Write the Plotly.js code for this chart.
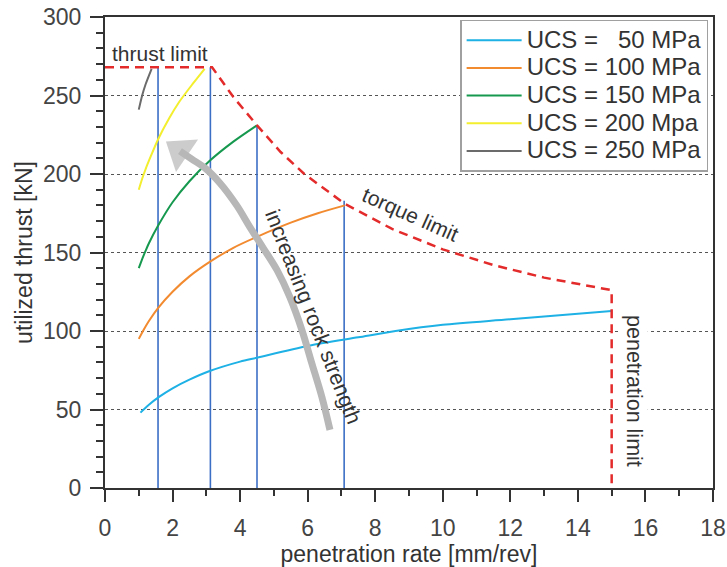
<!DOCTYPE html>
<html>
<head>
<meta charset="utf-8">
<script src="https://cdn.plot.ly/plotly-3.0.1.min.js"></script>
<style>html,body{margin:0;padding:0;background:#fff;}#chart{width:727px;height:567px;}</style>
</head>
<body>
<div id="chart"></div>
<script>
// ---- data ----
const ucsLabels = ['UCS = &nbsp;&nbsp;50 MPa', 'UCS = 100 MPa', 'UCS = 150 MPa', 'UCS = 200 Mpa', 'UCS = 250 MPa'];

const x50 = [1.05, 1.3, 1.6, 2.0, 2.5, 3.1, 4.0, 4.5, 6.0, 7.5, 8.6, 10, 12, 15];
const y50 = [48, 53, 58, 63.5, 69, 74.5, 80.5, 83, 90.5, 96, 100, 104, 107.5, 112.7];

const x100 = [1.0, 1.15, 1.3, 1.57, 2.0, 2.5, 3.1, 3.8, 4.5, 5.5, 6.3, 7.1];
const y100 = [95, 101, 106.4, 114.6, 125, 134.8, 144, 153, 160, 169, 175, 180];

const x150 = [1.0, 1.1, 1.2, 1.3, 1.57, 2.0, 2.5, 3.1, 3.8, 4.5];
const y150 = [140, 145.8, 151, 155.9, 167, 182, 195.4, 208.4, 220.6, 231];

const x200 = [1.0, 1.1, 1.2, 1.35, 1.57, 1.9, 2.2, 2.6, 2.95];
const y200 = [190, 197, 203, 211, 222, 235.5, 246, 257.5, 267];

const x250 = [1.0, 1.1, 1.2, 1.38];
const y250 = [241, 250, 257, 267];

// thrust limit + torque limit + penetration limit (red dashed envelope)
const limitX = [0, 3.17, 3.8, 4.5, 5.2, 5.9, 7.1, 8.5, 10, 11.5, 13, 15, 15];
const limitY = [268, 268, 249, 231, 214, 200, 181, 165, 152, 142, 134, 126, 0];

// vertical drop lines at the operating points
const dropX = [1.57, 3.12, 4.5, 7.08];
const dropTop = [268, 268, 231, 183];

// grey "increasing rock strength" arrow path (tail -> head)
const arrowX = [6.66, 6.42, 6.12, 5.83, 5.47, 5.09, 4.68, 4.28, 3.9, 3.4, 2.96, 2.57, 2.22];
const arrowY = [37, 58, 79.6, 100.6, 121.7, 138.9, 153, 166.5, 180, 194.3, 203.8, 209.5, 214.6];

const xTickVals = [0, 2, 4, 6, 8, 10, 12, 14, 16, 18];
const yTickVals = [0, 50, 100, 150, 200, 250, 300];

// ---- build traces ----
const curveColors = ['#1db1e5', '#f28a30', '#16994f', '#f3ee2e', '#6b6b6b'];
const curveX = [x50, x100, x150, x200, x250];
const curveY = [y50, y100, y150, y200, y250];

const dropLineX = [], dropLineY = [];
dropX.forEach((x, i) => { dropLineX.push(x, x, null); dropLineY.push(0, dropTop[i], null); });

const traces = [];
traces.push({
  x: dropLineX, y: dropLineY, type: 'scatter', mode: 'lines',
  line: {color: '#3b6fc6', width: 1.6}, showlegend: false, hoverinfo: 'skip'
});
curveX.forEach((xs, i) => {
  traces.push({
    x: xs, y: curveY[i], type: 'scatter', mode: 'lines',
    name: '<span style="font-size:24px">' + ucsLabels[i] + '</span>',
    line: {color: curveColors[i], width: 2, shape: 'spline', smoothing: 0.8}
  });
});
traces.push({
  x: limitX, y: limitY, type: 'scatter', mode: 'lines', showlegend: false,
  line: {color: '#e32b2b', width: 2.5, dash: '9px,6px'}, hoverinfo: 'skip'
});
traces.push({
  x: arrowX, y: arrowY, type: 'scatter', mode: 'lines+markers', showlegend: false,
  line: {color: '#b7b7b7', width: 7, shape: 'spline', smoothing: 1},
  marker: {
    symbol: 'triangle-up', color: '#b7b7b7', angleref: 'previous',
    size: arrowX.map((v, i) => i === arrowX.length - 1 ? 34 : 0),
    line: {width: 0}
  },
  hoverinfo: 'skip'
});

const font = 'Liberation Sans, Arial, Helvetica, sans-serif';
const layout = {
  width: 727, height: 567,
  margin: {l: 105, r: 14, t: 17, b: 79},
  paper_bgcolor: '#fff', plot_bgcolor: '#fff',
  font: {family: font, color: '#333', size: 22},
  showlegend: true,
  legend: {
    x: 0.992, y: 0.994, xanchor: 'right', yanchor: 'top',
    bgcolor: '#fff', bordercolor: '#a0a0a0', borderwidth: 1.5,
    itemwidth: 55,
    font: {family: font, size: 19, color: '#333'}
  },
  xaxis: {
    range: [0, 18], tickvals: xTickVals, ticks: 'outside', ticklen: 12, tickwidth: 2, tickcolor: '#333',
    minor: {dtick: 1, ticks: 'outside', ticklen: 6, tickwidth: 2, tickcolor: '#333'},
    showline: true, linecolor: '#333', linewidth: 2, mirror: true,
    showgrid: false, zeroline: false, automargin: false,
    tickfont: {family: font, size: 23, color: '#444'}, ticklabelstandoff: 6,
    title: {text: 'penetration rate [mm/rev]', font: {family: font, size: 23, color: '#333'}, standoff: 2}
  },
  yaxis: {
    range: [0, 300], tickvals: yTickVals, ticks: 'outside', ticklen: 13, tickwidth: 2, tickcolor: '#333',
    minor: {dtick: 10, ticks: 'outside', ticklen: 7, tickwidth: 2, tickcolor: '#333', showgrid: false},
    showline: true, linecolor: '#333', linewidth: 2, mirror: true,
    showgrid: true, gridcolor: '#555', griddash: 'dot', gridwidth: 1, zeroline: false, automargin: false,
    tickfont: {family: font, size: 23, color: '#444'}, ticklabelstandoff: 4,
    title: {text: 'utilized thrust [kN]', font: {family: font, size: 23, color: '#333'}, standoff: 4}
  },
  annotations: [
    {x: 1.63, y: 277, xref: 'x', yref: 'y', text: 'thrust limit', showarrow: false,
     font: {family: font, size: 21, color: '#333'}},
    {x: 9.05, y: 174, xref: 'x', yref: 'y', text: 'torque limit', showarrow: false, textangle: 24,
     font: {family: font, size: 21, color: '#333'}},
    {x: 6.16, y: 109, xref: 'x', yref: 'y', text: 'increasing rock strength', showarrow: false, textangle: 68.5,
     font: {family: font, size: 21.5, color: '#333'}},
    {x: 15.68, y: 62, xref: 'x', yref: 'y', text: 'penetration limit', showarrow: false, textangle: 90,
     bgcolor: '#fff', borderpad: 1,
     font: {family: font, size: 21.5, color: '#333'}}
  ]
};

Plotly.newPlot('chart', traces, layout, {displayModeBar: false, staticPlot: true});
</script>
</body>
</html>
